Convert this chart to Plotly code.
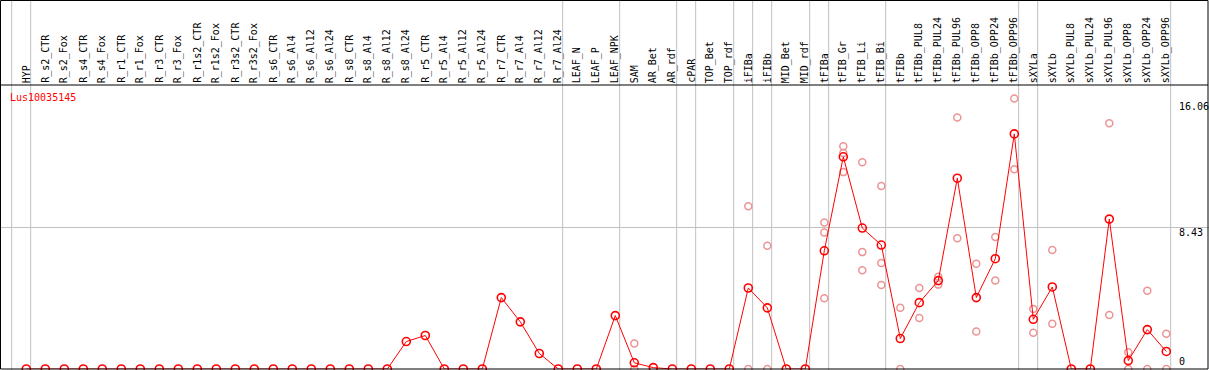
import plotly.graph_objects as go

categories = [
    "HYP",
    "R_s2_CTR", "R_s2_Fox", "R_s4_CTR", "R_s4_Fox", "R_r1_CTR", "R_r1_Fox",
    "R_r3_CTR", "R_r3_Fox", "R_r1s2_CTR", "R_r1s2_Fox", "R_r3s2_CTR", "R_r3s2_Fox",
    "R_s6_CTR", "R_s6_Al4", "R_s6_Al12", "R_s6_Al24",
    "R_s8_CTR", "R_s8_Al4", "R_s8_Al12", "R_s8_Al24",
    "R_r5_CTR", "R_r5_Al4", "R_r5_Al12", "R_r5_Al24",
    "R_r7_CTR", "R_r7_Al4", "R_r7_Al12", "R_r7_Al24",
    "LEAF_N", "LEAF_P", "LEAF_NPK",
    "SAM", "AR_Bet", "AR_rdf", "cPAR", "TOP_Bet", "TOP_rdf",
    "iFIBa", "iFIBb", "MID_Bet", "MID_rdf",
    "tFIBa", "tFIB_Gr", "tFIB_Li", "tFIB_Bi",
    "tFIBb", "tFIBb_PUL8", "tFIBb_PUL24", "tFIBb_PUL96",
    "tFIBb_OPP8", "tFIBb_OPP24", "tFIBb_OPP96",
    "sXYLa", "sXYLb", "sXYLb_PUL8", "sXYLb_PUL24", "sXYLb_PUL96",
    "sXYLb_OPP8", "sXYLb_OPP24", "sXYLb_OPP96",
]

mean_values = [
    0,
    0, 0, 0, 0, 0, 0,
    0, 0, 0, 0, 0, 0,
    0, 0, 0, 0,
    0, 0, 0, 1.63,
    1.99, 0, 0, 0,
    4.24, 2.80, 0.92, 0,
    0, 0, 3.17,
    0.37, 0.08, 0, 0, 0, 0,
    4.81, 3.63, 0, 0,
    7.02, 12.60, 8.37, 7.36,
    1.81, 3.94, 5.25, 11.33,
    4.24, 6.55, 13.96,
    2.95, 4.87, 0, 0, 8.90,
    0.50, 2.34, 1.04,
]

rep_categories = [
    "SAM", "SAM",
    "iFIBa", "iFIBa", "iFIBb", "iFIBb",
    "tFIBa", "tFIBa", "tFIBa",
    "tFIB_Gr", "tFIB_Gr", "tFIB_Gr",
    "tFIB_Li", "tFIB_Li", "tFIB_Li",
    "tFIB_Bi", "tFIB_Bi", "tFIB_Bi",
    "tFIBb", "tFIBb",
    "tFIBb_PUL8", "tFIBb_PUL8", "tFIBb_PUL24", "tFIBb_PUL24",
    "tFIBb_PUL96", "tFIBb_PUL96",
    "tFIBb_OPP8", "tFIBb_OPP8", "tFIBb_OPP24", "tFIBb_OPP24",
    "tFIBb_OPP96", "tFIBb_OPP96",
    "sXYLa", "sXYLa", "sXYLb", "sXYLb",
    "sXYLb_PUL96", "sXYLb_PUL96",
    "sXYLb_OPP8", "sXYLb_OPP8", "sXYLb_OPP24", "sXYLb_OPP24",
    "sXYLb_OPP96", "sXYLb_OPP96",
]
rep_values = [
    1.51, 0,
    9.67, 0, 7.32, 0,
    8.70, 8.11, 4.20,
    13.23, 12.82, 11.69,
    12.28, 6.94, 5.87,
    10.86, 6.30, 4.99,
    3.63, 0,
    4.81, 3.03, 5.48, 5.01,
    14.94, 7.76,
    6.25, 2.22, 7.84, 5.25,
    16.06, 11.86,
    3.57, 2.15, 7.07, 2.68,
    14.59, 3.21,
    1.00, 0, 4.65, 0,
    2.09, 0,
]

# categories after which a separator line is drawn ("" = before the first one)
separator_after = ["", "HYP", "R_r7_Al24", "LEAF_NPK", "AR_rdf", "cPAR", "TOP_rdf",
                   "iFIBa", "iFIBb", "MID_rdf", "tFIBa", "tFIB_Bi", "tFIBb_OPP96",
                   "sXYLa", "sXYLb_OPP96"]

axis_labels = [16.06, 8.43, 0]
gene_name = "Lus10035145"

# ---------------- layout geometry ----------------
W, H = 1209, 370
TOP, BOT = 85, 1
PLOT_H = H - TOP - BOT
X0_PX, STEP = 26.3, 19.0
YMAX = 16.06 * 1.05
FONT = "DejaVu Sans Mono, Liberation Mono, monospace"

idx = {c: i for i, c in enumerate(categories)}
xs = list(range(len(categories)))
rep_x = [idx[c] for c in rep_categories]


def py(p):  # pixel y -> paper y
    return (H - BOT - p) / PLOT_H


def px(p):  # pixel x -> paper x
    return p / W


fig = go.Figure()
fig.add_trace(go.Scatter(
    x=rep_x, y=rep_values, mode="markers",
    marker=dict(symbol="circle-open", size=7, color="#ec9494", line=dict(width=1.5)),
    cliponaxis=False, showlegend=False, hoverinfo="skip"))
fig.add_trace(go.Scatter(
    x=xs, y=mean_values, mode="lines+markers",
    line=dict(color="#ff0000", width=1),
    marker=dict(symbol="circle-open", size=8, color="#ff0000", line=dict(width=1.6)),
    cliponaxis=False, showlegend=False))

shapes = []
for name in separator_after:
    b = idx[name] if name else -1
    shapes.append(dict(type="line", xref="x", yref="paper", x0=b + 0.23, x1=b + 0.23,
                       y0=py(H), y1=py(0), line=dict(color="#c0c0c0", width=1), layer="below"))
# borders
shapes.append(dict(type="rect", xref="paper", yref="paper", x0=px(0.5), x1=px(1208),
                   y0=py(369), y1=py(0.5), line=dict(color="black", width=1)))
shapes.append(dict(type="line", xref="paper", yref="paper", x0=px(0.5), x1=px(1208),
                   y0=py(85), y1=py(85), line=dict(color="black", width=1)))

annotations = []
for i, c in enumerate(categories):
    annotations.append(dict(x=i, y=1, xref="x", yref="paper", text=c, showarrow=False,
                            textangle=-90, xanchor="center", yanchor="bottom", yshift=0,
                            font=dict(family=FONT, size=10, color="black")))
label_shift = {16.06: -8, 8.43: -5, 0: 8}
for v in axis_labels:
    annotations.append(dict(x=px(1177), y=v, xref="paper", yref="y",
                            text=f"{v:g}" if v else "0", showarrow=False,
                            xanchor="left", yanchor="middle", yshift=label_shift[v],
                            font=dict(family=FONT, size=10, color="black")))
annotations.append(dict(x=px(8), y=py(97), xref="paper", yref="paper", text=gene_name,
                        showarrow=False, xanchor="left", yanchor="middle",
                        font=dict(family=FONT, size=10, color="#ff0000")))

fig.update_layout(
    width=W, height=H,
    margin=dict(l=0, r=0, t=TOP, b=BOT, pad=0),
    paper_bgcolor="white", plot_bgcolor="white",
    xaxis=dict(range=[-X0_PX / STEP, (W - X0_PX) / STEP], showgrid=False, zeroline=False,
               showticklabels=False, ticks=""),
    yaxis=dict(range=[0, YMAX], tickvals=[8.43], showgrid=True, gridcolor="#c0c0c0",
               gridwidth=1, zeroline=False, showticklabels=False, ticks=""),
    shapes=shapes, annotations=annotations,
)
fig.write_html(
    "out.html",
    config={"displayModeBar": False},
    post_script="document.body.style.margin='0';document.body.style.overflow='hidden';",
)
